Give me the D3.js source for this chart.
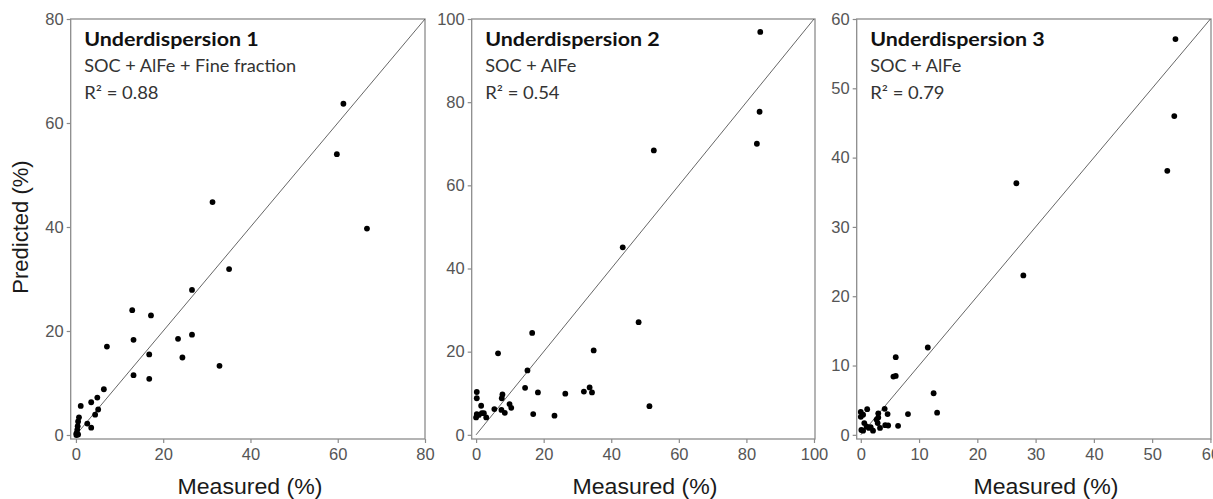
<!DOCTYPE html>
<html>
<head>
<meta charset="utf-8">
<script src="https://cdn.jsdelivr.net/npm/d3@7"></script>
<style>
  html, body { margin: 0; padding: 0; background: #fff; }
  svg { display: block; }
</style>
</head>
<body>
<svg id="chart" width="1213" height="499"></svg>
<script>
// ---- data ----
const titles = ["Underdispersion 1", "Underdispersion 2", "Underdispersion 3"];
const subtitles = ["SOC + AlFe + Fine fraction", "SOC + AlFe", "SOC + AlFe"];
const r2Labels = ["R\u00B2 = 0.88", "R\u00B2 = 0.54", "R\u00B2 = 0.79"];
const axisMax = [80, 100, 60];
const ticks1 = [0, 20, 40, 60, 80];
const ticks2 = [0, 20, 40, 60, 80, 100];
const ticks3x = [0, 10, 20, 30, 40, 50, 60];
const ticks3y = [0, 10, 20, 30, 40, 50, 60];

const measured1 = [61.3, 59.8, 31.3, 66.7, 35.1, 26.6, 12.9, 17.2, 7.1, 13.2, 23.4, 26.6, 16.8, 24.4, 32.9, 13.2, 16.8, 6.4, 4.9, 3.5, 1.1, 5.1, 4.4, 2.6, 3.5, 0.7, 0.5, 0.4, 0.3, 0.1, 0.5, 0.1];
const predicted1 = [63.7, 54.0, 44.8, 39.7, 31.9, 27.9, 24.0, 23.0, 17.0, 18.3, 18.5, 19.3, 15.5, 14.9, 13.3, 11.5, 10.8, 8.8, 7.2, 6.3, 5.6, 4.9, 3.9, 2.2, 1.4, 3.4, 2.6, 1.7, 1.0, 0.3, 0.1, 0.0];

const measured2 = [84.1, 83.9, 83.1, 52.6, 43.4, 48.1, 16.6, 6.5, 34.8, 15.2, 14.5, 18.3, 26.4, 31.9, 33.6, 34.3, 51.3, 23.2, 16.9, 9.9, 10.4, 7.8, 7.6, 7.5, 8.5, 5.4, 0.2, 0.2, 0.0, 0.2, 0.8, 1.5, 1.7, 2.3, 3.0];
const predicted2 = [96.9, 77.7, 70.0, 68.4, 45.1, 27.1, 24.5, 19.6, 20.3, 15.5, 11.3, 10.2, 9.9, 10.4, 11.4, 10.2, 6.9, 4.6, 5.0, 7.4, 6.5, 9.7, 8.8, 6.0, 5.3, 6.2, 10.3, 8.8, 4.2, 5.0, 4.8, 7.0, 5.2, 5.2, 4.2];

const measured3 = [54.0, 53.8, 52.6, 26.7, 27.9, 11.5, 6.0, 5.6, 6.0, 12.5, 13.1, 8.1, 6.4, 4.1, 4.6, 4.2, 4.7, 3.0, 3.0, 2.7, 2.9, 3.3, 2.1, 1.7, 1.1, 0.4, 0.0, 0.0, 0.6, 1.0, 0.1, 0.4, 1.4];
const predicted3 = [57.1, 46.0, 38.1, 36.3, 23.0, 12.6, 11.2, 8.4, 8.5, 6.0, 3.2, 3.0, 1.3, 3.75, 3.0, 1.4, 1.35, 3.1, 2.5, 2.2, 1.7, 1.0, 0.6, 1.1, 3.7, 2.9, 3.3, 2.6, 1.7, 1.2, 0.7, 0.6, 1.0];

// ---- layout ----
const svg = d3.select("#chart");
const plotTop = 19, plotBottom = 439;
const panels = [
  { left: 70.7, right: 425, xdom: [-1.2, 80], ydom: [-0.77, 80], xt: ticks1, yt: ticks1, mx: measured1, py: predicted1, labelX: 250 },
  { left: 471.7, right: 815, xdom: [-1.3, 100.3], ydom: [-1, 100], xt: ticks2, yt: ticks2, mx: measured2, py: predicted2, labelX: 645 },
  { left: 856.7, right: 1211, xdom: [-0.7, 60.1], ydom: [-0.6, 60], xt: ticks3x, yt: ticks3y, mx: measured3, py: predicted3, labelX: 1046 }
];

const annFont = "Lato, 'Open Sans', sans-serif";
const axFont = "'Liberation Sans', Arial, sans-serif";

panels.forEach((p, i) => {
  const x = d3.scaleLinear().domain(p.xdom).range([p.left, p.right]);
  const y = d3.scaleLinear().domain(p.ydom).range([plotBottom, plotTop]);
  const g = svg.append("g");

  // axes
  const xa = g.append("g").attr("transform", `translate(0,${plotBottom})`)
    .call(d3.axisBottom(x).tickValues(p.xt).tickSize(4).tickPadding(5).tickFormat(d3.format("d")));
  const ya = g.append("g").attr("transform", `translate(${p.left},0)`)
    .call(d3.axisLeft(y).tickValues(p.yt).tickSize(4).tickPadding(3).tickFormat(d3.format("d")));
  [xa, ya].forEach(a => {
    a.select(".domain").remove();
    a.selectAll(".tick line").attr("stroke", "#8a8a8a").attr("stroke-width", 1.2);
    a.selectAll(".tick text").attr("fill", "#555").style("font-family", axFont).style("font-size", "16.5px");
  });

  // frame
  g.append("rect").attr("x", p.left).attr("y", plotTop)
    .attr("width", p.right - p.left).attr("height", plotBottom - plotTop)
    .attr("fill", "none").attr("stroke", "#8c8c8c").attr("stroke-width", 1.3);

  // 1:1 line
  const m = axisMax[i];
  g.append("line")
    .attr("x1", x(0)).attr("y1", y(0)).attr("x2", x(m)).attr("y2", y(m))
    .attr("stroke", "#555").attr("stroke-width", 0.9);

  // points
  g.selectAll("circle").data(p.mx.map((v, k) => [v, p.py[k]])).enter().append("circle")
    .attr("cx", d => x(d[0])).attr("cy", d => y(d[1])).attr("r", 2.9).attr("fill", "#000");

  // annotations (slightly wide lettering as in the reference)
  const tx = p.left + 13.5;
  g.append("text").attr("transform", `translate(${tx},45.5) scale(1.1,1)`).text(titles[i])
    .style("font-family", annFont).style("font-weight", "bold").style("font-size", "19.5px").attr("fill", "#111");
  g.append("text").attr("transform", `translate(${tx},72) scale(1.1,1)`).text(subtitles[i])
    .style("font-family", annFont).style("font-size", "16.5px").attr("fill", "#333");
  g.append("text").attr("transform", `translate(${tx},99) scale(1.12,1)`).text(r2Labels[i])
    .style("font-family", annFont).style("font-size", "16.5px").attr("fill", "#333");

  // x axis title
  g.append("text").attr("transform", `translate(${p.labelX},494) scale(1.05,1)`).attr("text-anchor", "middle").text("Measured (%)")
    .style("font-family", axFont).style("font-size", "22px").attr("fill", "#1a1a1a");
});

// y axis title
svg.append("text").attr("transform", "translate(28,227) rotate(-90)").attr("text-anchor", "middle").text("Predicted (%)")
  .style("font-family", axFont).style("font-size", "22px").attr("fill", "#1a1a1a");
</script>
</body>
</html>
